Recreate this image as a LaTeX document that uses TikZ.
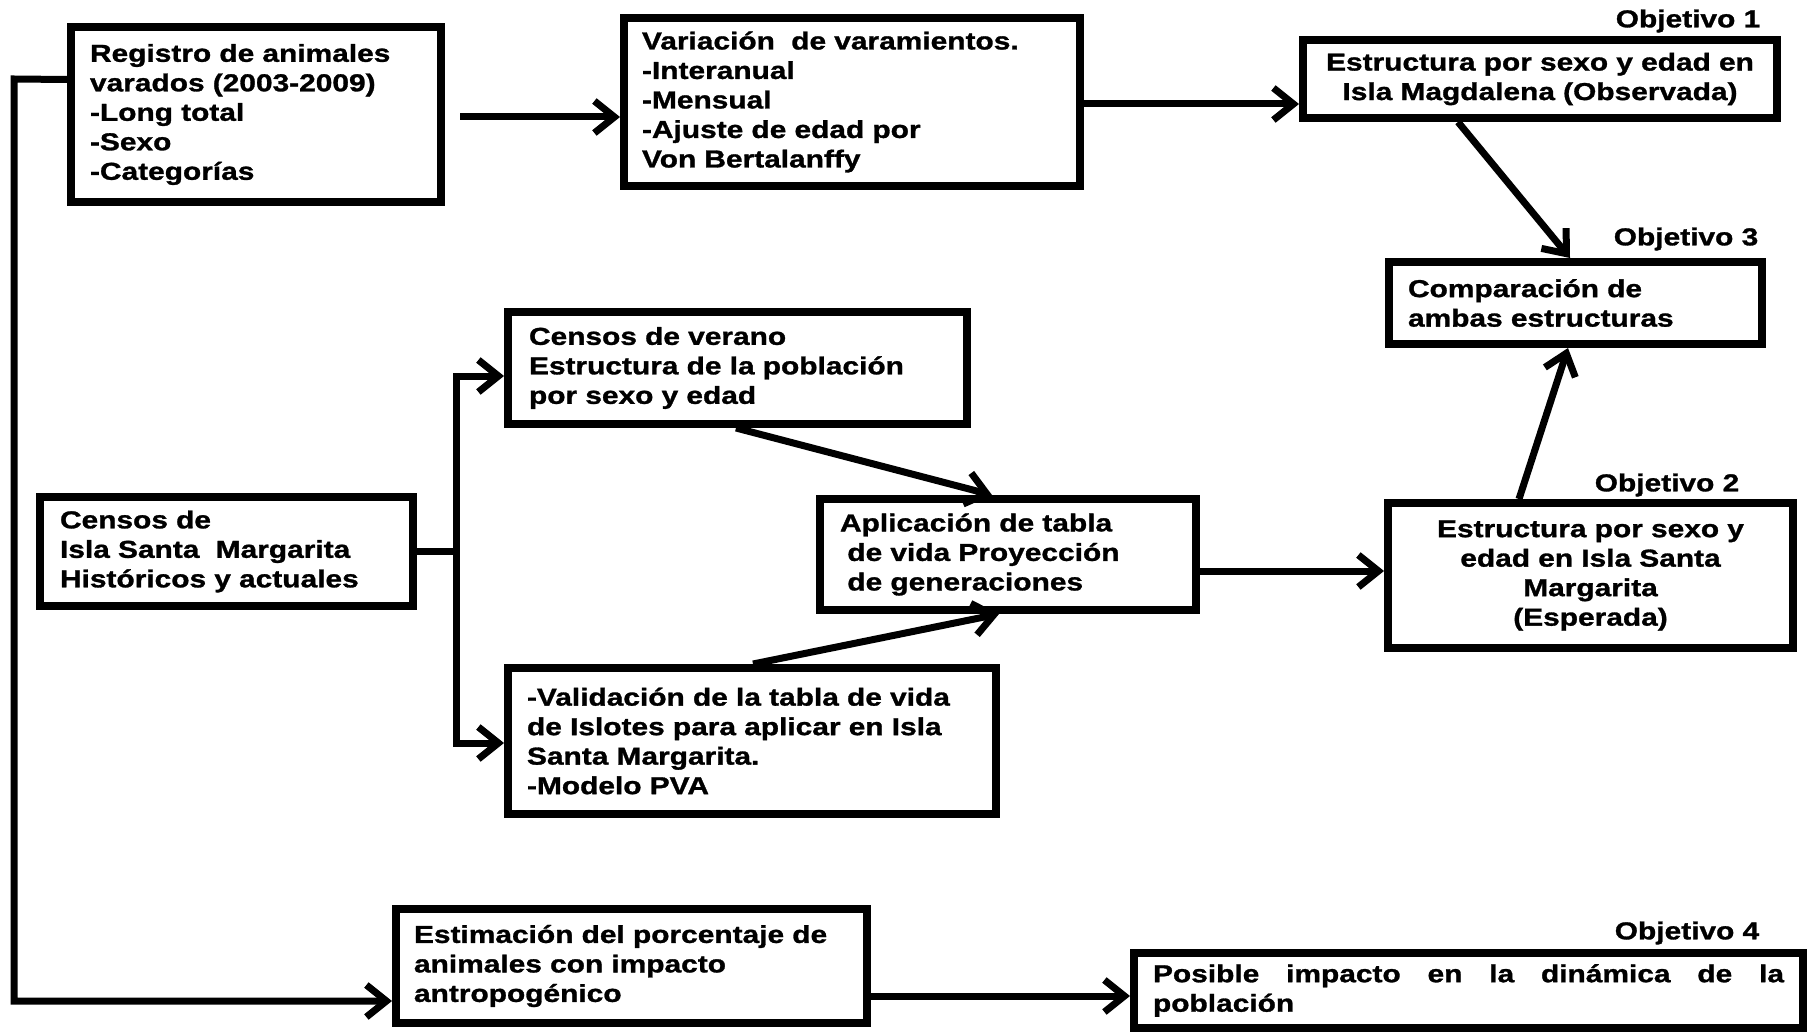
\documentclass[tikz,border=0pt]{standalone}
\usepackage{fontspec}
\setmainfont{Liberation Sans}[FakeStretch=1.22,BoldFeatures={FakeBold=1.2}]
\usetikzlibrary{arrows.meta,calc}
\begin{document}
\begin{tikzpicture}[x=1pt,y=-1pt,
  every node/.style={font=\fontsize{24.5}{29.5}\selectfont\bfseries},
  box/.style={draw=black, line width=8pt, inner ysep=0pt},
  lbox/.style={box, align=left},
  cbox/.style={box, align=center},
  link/.style={line width=7pt, -{Straight Barb[length=20pt,width=32pt]}},
  plain/.style={line width=7pt},
  obj/.style={inner sep=0pt}]
\fill[white] (0,0) rectangle (1812,1032);
\useasboundingbox (0,0) rectangle (1812,1032);

% boxes
\node[lbox, minimum width=370pt, minimum height=175pt, text width=332pt, inner xsep=19pt] (A) at (256,114.5)
  {Registro de animales\\varados (2003-2009)\\-Long total\\-Sexo\\-Categorías};
\node[lbox, minimum width=456pt, minimum height=168pt, text width=420pt, inner xsep=18pt] (B) at (852,102)
  {Variación\ \ de varamientos.\\-Interanual\\-Mensual\\-Ajuste de edad por\\Von Bertalanffy};
\node[cbox, minimum width=474pt, minimum height=78pt, text width=440pt, inner xsep=17pt] (C) at (1540,79)
  {Estructura por sexo y edad en\\Isla Magdalena (Observada)};
\node[lbox, minimum width=373pt, minimum height=82pt, text width=335pt, inner xsep=19pt] (D) at (1575.5,303)
  {Comparación de\\ambas estructuras};
\node[lbox, minimum width=459pt, minimum height=112pt, text width=417pt, inner xsep=21pt] (E) at (737.5,368)
  {Censos de verano\\Estructura de la población\\por sexo y edad};
\node[lbox, minimum width=373pt, minimum height=109pt, text width=333pt, inner xsep=20pt] (F) at (226.5,551.5)
  {Censos de\\Isla Santa\ \ Margarita\\Históricos y actuales};
\node[lbox, minimum width=488pt, minimum height=146pt, text width=450pt, inner xsep=19pt] (G) at (752,741)
  {-Validación de la tabla de vida\\de Islotes para aplicar en Isla\\Santa Margarita.\\-Modelo PVA};
\node[lbox, minimum width=376pt, minimum height=111pt, text width=336pt, inner xsep=20pt] (H) at (1008,554.5)
  {Aplicación de tabla\\\hspace*{0.3em}de vida Proyección\\\hspace*{0.3em}de generaciones};
\node[cbox, minimum width=405pt, minimum height=145pt, text width=380pt, inner xsep=12.5pt] (I) at (1590.5,575.5)
  {Estructura por sexo y\\edad en Isla Santa\\Margarita\\(Esperada)};
\node[lbox, minimum width=471pt, minimum height=114pt, text width=435pt, inner xsep=18pt] (J) at (631.5,966)
  {Estimación del porcentaje de\\animales con impacto\\antropogénico};
\node[box, align=justify, minimum width=669pt, minimum height=75pt, text width=631pt, inner xsep=19pt] (K) at (1468.5,990.5)
  {Posible impacto en la dinámica de la población};

% objective labels
\node[obj] (o1) at (1688,21) {Objetivo 1};
\node[obj] (o3) at (1686,239) {Objetivo 3};
\node[obj] (o2) at (1667,485) {Objetivo 2};
\node[obj] (o4) at (1687,933) {Objetivo 4};

% helper coordinates
\coordinate (a1) at ($(A.west)+(0,-35)$);
\coordinate (l1) at (14,79);
\coordinate (l2) at (14,1001);
\coordinate (ab) at ($(A.east)+(15,2.5)$);
\coordinate (bc) at ($(B.east)+(0,2)$);
\coordinate (cs) at ($(C.south west)+(159,0)$);
\coordinate (dn) at ($(D.north west)+(185,0)$);
\coordinate (in) at ($(I.north west)+(135,0)$);
\coordinate (ds) at ($(D.south west)+(183,0)$);
\coordinate (br) at (456,551);
\coordinate (bt) at (456,376);
\coordinate (bb) at (456,743);
\coordinate (es) at ($(E.south west)+(232,0)$);
\coordinate (hn) at ($(H.north west)+(176,0)$);
\coordinate (gn) at ($(G.north west)+(249,0)$);
\coordinate (hs) at ($(H.south west)+(183,0)$);
\coordinate (hi) at ($(H.east)+(0,16.5)$);
\coordinate (jk) at ($(J.east)+(0,30)$);

% connectors
\draw[link] (a1) -- (l1) -- (l2) -- (l2 -| J.west);
\draw[link] (ab) -- (ab -| B.west);
\draw[link] (bc) -- (bc -| C.west);
\draw[link] (cs) -- (dn);
\draw[link] (in) -- (ds);
\draw[plain] (F.east |- br) -- (br);
\draw[link] (bb) -- (bt) -- (bt -| E.west);
\draw[link] (bt) -- (bb) -- (bb -| G.west);
\draw[link] (es) -- (hn);
\draw[link] (gn) -- (hs);
\draw[link] (hi) -- (hi -| I.west);
\draw[link] (jk) -- (jk -| K.west);
\end{tikzpicture}
\end{document}
